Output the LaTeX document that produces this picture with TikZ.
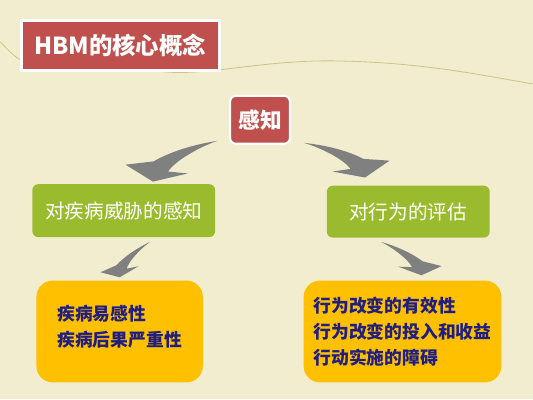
\documentclass[tikz,border=0pt]{standalone}
\usepackage{fontspec}
\setmainfont{Noto Sans CJK SC}
\usetikzlibrary{positioning,calc}
\definecolor{paper}{RGB}{242,237,206}
\definecolor{hbmred}{RGB}{192,80,77}
\definecolor{leaf}{RGB}{155,187,46}
\definecolor{amber}{RGB}{255,192,0}
\definecolor{ink}{RGB}{32,30,128}
\definecolor{vine}{RGB}{206,198,128}
\definecolor{slate}{RGB}{128,128,128}
\tikzstyle{redbox}=[rectangle,fill=hbmred,draw=white,line width=1.8pt,text=white]
\tikzstyle{greenbox}=[rectangle,rounded corners=5pt,fill=leaf,text=white,font=\fontsize{16.8}{19}\selectfont]
\tikzstyle{amberbox}=[rectangle,rounded corners=14pt,fill=amber,text=ink,align=left,font=\bfseries\fontsize{15.2}{22}\selectfont]
% point of a swoosh: fraction along tail->tip, offset across it
\newcommand{\lp}[2]{($(sw-a)!#1!(sw-b)+(sw-a)!#2!\swang:(sw-b)-(sw-a)$)}
% tapered curved arrow: #1 side (90 or -90), #2 tail, #3 tip
\newcommand{\swoosh}[3]{%
  \def\swang{#1}
  \coordinate (sw-a) at #2; \coordinate (sw-b) at #3;
  \fill[slate] (sw-a) .. controls \lp{0.3}{0.13} and \lp{0.6}{0.21} .. \lp{0.85}{0.22}
    -- \lp{1.185}{0.381} -- (sw-b) -- \lp{0.556}{-0.154} -- \lp{0.761}{0.005}
    .. controls \lp{0.62}{0.075} and \lp{0.25}{0.06} .. (sw-a) -- cycle;}

\begin{document}
\begin{tikzpicture}[x=0.03cm,y=-0.03cm]
\fill[paper] (0,0) rectangle (533,400);
\draw[vine,line width=0.7pt] (0,42) .. controls (15,58) .. (40,70) -- (157,71)
  .. controls (200,78) and (260,60) .. (333,61) .. controls (420,62) and (480,75) .. (533,84);
% title and top
\node[redbox,line width=2.5pt,minimum width=5.94cm,minimum height=1.5cm,
  font=\bfseries\fontsize{20}{24}\selectfont] (title) at (120,45.5) {HBM的核心概念};
\node[redbox,rounded corners=5pt,minimum width=1.8cm,minimum height=1.44cm,
  font=\bfseries\fontsize{18.5}{20}\selectfont] (perc) at (260,120) {感知};
% two sides
\node[greenbox,minimum width=5.49cm,minimum height=1.59cm] (threat) at (123.5,211) {对疾病威胁的感知};
\node[greenbox,minimum width=4.89cm,minimum height=1.56cm] (appraise) at (408.5,212) {对行为的评估};
\node[amberbox,minimum width=5cm,minimum height=3.06cm,text depth=10pt] (risk) at (119.4,332)
  {疾病易感性\\疾病后果严重性};
\node[amberbox,minimum width=5.94cm,minimum height=3.06cm] (cost) at (402.7,332)
  {行为改变的有效性\\行为改变的投入和收益\\行动实施的障碍};
% arrows
\swoosh{-90}{([xshift=-10pt,yshift=3.4pt]perc.south west)}{([xshift=25pt,yshift=2pt]threat.north)}
\swoosh{90}{([xshift=11pt,yshift=1.7pt]perc.south east)}{([xshift=-37pt,yshift=6.8pt]appraise.north)}
\swoosh{-90}{([xshift=22.5pt,yshift=-3.8pt]threat.south)}{([yshift=2.6pt]risk.north)}
\swoosh{90}{([xshift=-23.4pt,yshift=-3.4pt]appraise.south)}{([xshift=16.2pt,yshift=4.3pt]cost.north)}
\end{tikzpicture}
\end{document}
